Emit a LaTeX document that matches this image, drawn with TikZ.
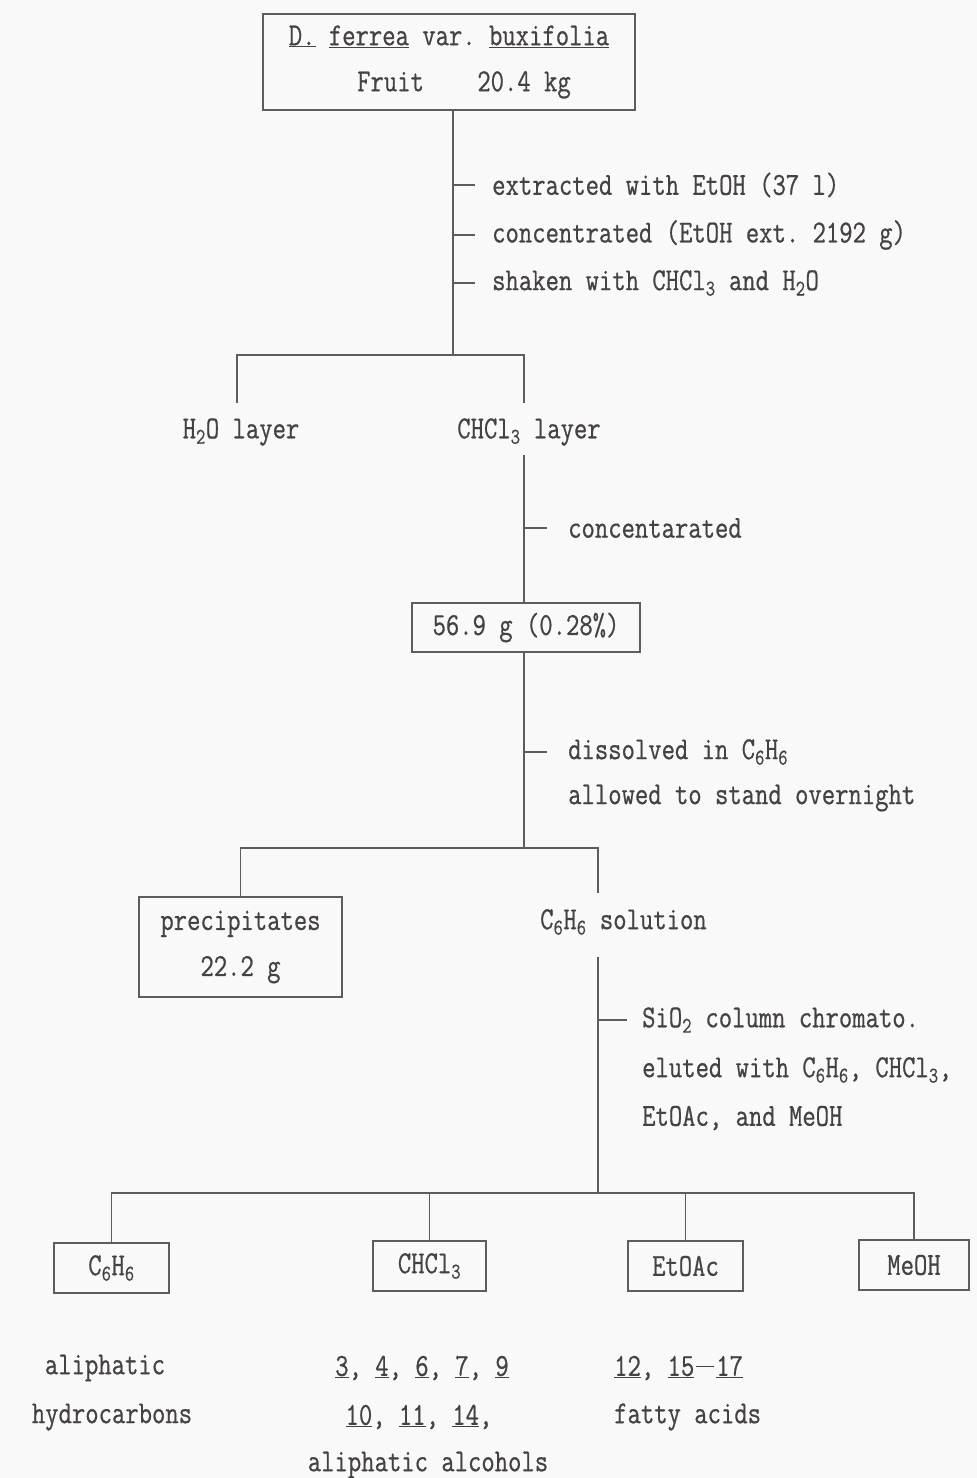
\documentclass[tikz,border=0pt]{standalone}
\usepackage{fontspec}
\setmonofont[FakeStretch=0.81,FakeBold=0.6]{Latin Modern Mono}
\definecolor{ink}{RGB}{70,66,68}
\definecolor{wire}{RGB}{95,92,95}
\definecolor{paper}{RGB}{250,249,250}
\begin{document}
\begin{tikzpicture}[x=1pt,y=-1pt,
  every node/.style={font=\fontsize{32}{46}\selectfont\ttfamily, text=ink, inner sep=0pt},
  boxnode/.style={draw=wire, line width=1.3pt, align=center},
  lbl/.style={anchor=west},
  conn/.style={draw=wire, line width=1.3pt}]
\fill[paper] (0,0) rectangle (977,1478);
\useasboundingbox (0,0) rectangle (977,1478);

% top box
\node[boxnode, minimum width=372, minimum height=96] (top) at (449,62)
  {\underline{D.} \underline{ferrea} var. \underline{buxifolia}\\
   \hspace*{30pt}Fruit\ \ \ \ 20.4 kg};

% first step labels
\node[lbl] (l1) at (492,185) {extracted with EtOH (37 l)};
\node[lbl] (l2) at (492,235) {concentrated (EtOH ext. 2192 g)};
\node[lbl] (l3) at (492,283) {shaken with CHCl\textsubscript{3} and H\textsubscript{2}O};

\coordinate (t1) at (453,355);
\draw[conn] (top.south -| t1) -- (t1);
\foreach \l in {l1,l2,l3} \draw[conn] (\l.west -| t1) -- ++(22,0);

% layers
\node (h2o) at (241,432) {H\textsubscript{2}O layer};
\node (chl) at (529,432) {CHCl\textsubscript{3} layer};
\coordinate (h2oin) at (237,403);
\coordinate (chin) at (524,403);
\coordinate (chout) at (524,455);
\draw[conn] (h2oin) |- (t1) -| (chin);

\node[lbl] (l4) at (568,528) {concentarated};
\draw[conn] (l4.west -| chout) -- ++(23,0);

% 56.9 g box
\node[boxnode, minimum width=228, minimum height=49] (b56) at (526,627.5) {56.9 g (0.28\%)};
\draw[conn] (chout) -- (b56.north -| chout);

\node[lbl] (l5) at (568,752) {dissolved in C\textsubscript{6}H\textsubscript{6}};
\node[lbl] (l6) at (568,798) {allowed to stand overnight};
\coordinate (t2) at (524,848);
\draw[conn] (b56.south -| t2) -- (t2);
\draw[conn] (l5.west -| t2) -- ++(23,0);

% precipitates / solution
\node[boxnode, minimum width=203, minimum height=100] (prec) at (240.5,947) {precipitates\\22.2 g};
\node[lbl] (sol) at (540,922) {C\textsubscript{6}H\textsubscript{6} solution};
\coordinate (solin) at (598,893);
\coordinate (solout) at (598,957);
\draw[conn] (prec.north) |- (t2) -| (solin);

\node[lbl] (l7) at (642,1020) {SiO\textsubscript{2} column chromato.};
\node[lbl] (l8) at (642,1070) {eluted with C\textsubscript{6}H\textsubscript{6}, CHCl\textsubscript{3},};
\node[lbl] (l9) at (642,1118) {EtOAc, and MeOH};
\coordinate (jb) at (598,1193);
\draw[conn] (solout) -- (jb);
\draw[conn] (l7.west -| jb) -- ++(29,0);

% fractions
\node[boxnode, minimum width=115, minimum height=50] (c6) at (111.5,1268) {C\textsubscript{6}H\textsubscript{6}};
\node[boxnode, minimum width=113, minimum height=50] (chcl) at (429.5,1266) {CHCl\textsubscript{3}};
\node[boxnode, minimum width=115, minimum height=50] (etoac) at (685.5,1266) {EtOAc};
\node[boxnode, minimum width=110, minimum height=50] (meoh) at (914,1265) {MeOH};
\draw[conn] (c6.north) |- (jb) -| (meoh.north);
\draw[conn] (chcl.north) -- (chcl.north |- jb);
\draw[conn] (etoac.north) -- (etoac.north |- jb);

% results
\node (r1) at (105,1368) {aliphatic};
\node (r2) at (112,1417) {hydrocarbons};
\node (r3) at (422,1368) {\underline{3}, \underline{4}, \underline{6}, \underline{7}, \underline{9}};
\node (r4) at (419,1417) {\underline{10}, \underline{11}, \underline{14},};
\node (r5) at (428,1465) {aliphatic alcohols};
\node[lbl] (r6) at (614,1368) {\underline{12}, \underline{15}\kern2pt\rule[0.28em]{18pt}{1.2pt}\kern2pt\underline{17}};
\node[lbl] (r7) at (614,1417) {fatty acids};
\end{tikzpicture}
\end{document}
